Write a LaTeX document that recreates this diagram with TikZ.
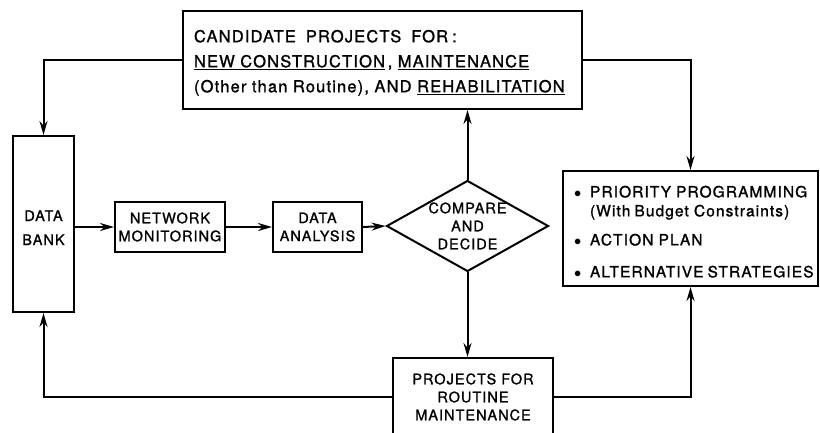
\documentclass[tikz,border=0pt]{standalone}
\usepackage{fontspec}
\setmainfont[LetterSpace=7,FakeBold=1.2]{TeX Gyre Heros}
\usetikzlibrary{arrows.meta,shapes.geometric}

\tikzset{
  box/.style={draw, line width=2pt, inner sep=0pt, align=center},
  flow/.style={line width=2pt, -{Stealth[length=14pt,width=8pt]}},
}
\newcommand{\itembullet}{\makebox[16pt][l]{$\bullet$}}

\begin{document}
\begin{tikzpicture}[x=1pt,y=-1pt,font=\fontsize{14.5}{18}\selectfont]
  \useasboundingbox (0,0) rectangle (820,433);
  % boxes
  \node[box, minimum width=399pt, minimum height=98pt, align=left,
        text width=377pt, inner xsep=11pt, font=\fontsize{16.5}{18}\selectfont]
        (cand) at (382.5,60)
    {\rule{0pt}{18pt}CANDIDATE\hspace{10pt}PROJECTS\hspace{10pt}FOR\hspace{4pt}:\\[7pt]
     \underline{NEW CONSTRUCTION}\,, \underline{MAINTENANCE}\\[7pt]
     (Other than Routine), AND \underline{REHABILITATION}};
  \node[box, minimum width=61pt, minimum height=176pt] (bank) at (43.5,224)
    {\rule{0pt}{18pt}DATA\\[6pt]BANK};
  \node[box, minimum width=110pt, minimum height=50pt] (net) at (170,227)
    {NETWORK\\MONITORING};
  \node[box, minimum width=89pt, minimum height=50pt] (ana) at (317.5,227)
    {DATA\\ANALYSIS};
  \node[box, shape=diamond, minimum width=151pt, minimum height=85pt,
        aspect=1.78] (dec) at (467.5,226) {COMPARE\\AND\\DECIDE};
  \node[box, minimum width=255pt, minimum height=115pt, align=left,
        text width=233pt, inner xsep=11pt, font=\fontsize{15.5}{19}\selectfont]
        (prio) at (690.5,228.5)
    {\rule{0pt}{18pt}\mbox{\itembullet PRIORITY\hspace{5pt}PROGRAMMING}\\
     \mbox{\hphantom{\itembullet}(With\hspace{4pt}Budget Constraints)}\\[10pt]
     \mbox{\itembullet ACTION PLAN}\\[13pt]
     \mbox{\itembullet ALTERNATIVE\hspace{4pt}STRATEGIES}};
  \node[box, minimum width=160pt, minimum height=78pt] (rout) at (473,397)
    {PROJECTS FOR\\ROUTINE\\MAINTENANCE};
  % connectors
  \draw[flow] (cand.west) -| (bank.north);
  \draw[flow] (cand.east) -| (prio.north);
  \draw[flow] (net.west -| bank.east) -- (net.west);
  \draw[flow] (net.east) -- (ana.west);
  \draw[flow] (ana.east) -- (dec.west);
  \draw[flow] (dec.north) -- (dec.north |- cand.south);
  \draw[flow] (dec.south) -- (dec.south |- rout.north);
  \draw[flow] (rout.west) -| (bank.south);
  \draw[flow] (rout.east) -| (prio.south);
\end{tikzpicture}
\end{document}
